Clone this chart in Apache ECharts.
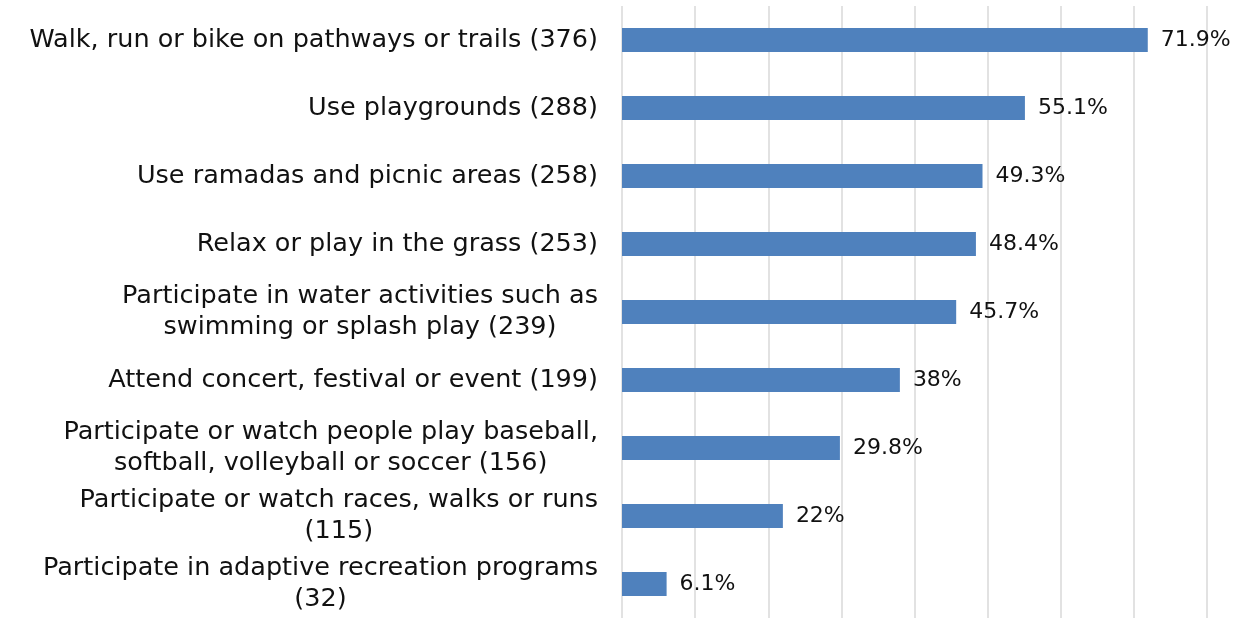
<!DOCTYPE html>
<html>
<head>
<meta charset="utf-8">
<script src="https://cdn.jsdelivr.net/npm/echarts@6/dist/echarts.min.js"></script>
<style>
  html, body { margin: 0; padding: 0; background: #fff; }
  #chart { width: 1246px; height: 618px; }
</style>
</head>
<body>
<div id="chart"></div>
<script>
// categories, top to bottom
const categories = [
  'Walk, run or bike on pathways or trails (376)',
  'Use playgrounds (288)',
  'Use ramadas and picnic areas (258)',
  'Relax or play in the grass (253)',
  'Participate in water activities such as\nswimming or splash play (239)',
  'Attend concert, festival or event (199)',
  'Participate or watch people play baseball,\nsoftball, volleyball or soccer (156)',
  'Participate or watch races, walks or runs\n(115)',
  'Participate in adaptive recreation programs\n(32)'
]
const percents = [71.9, 55.1, 49.3, 48.4, 45.7, 38, 29.8, 22, 6.1]

const FONT = 'DejaVu Sans'
const chart = echarts.init(document.getElementById('chart'))
chart.setOption({
  animation: false,
  textStyle: { fontFamily: FONT },
  grid: { left: 622, right: 39, top: 6, bottom: 0 },
  xAxis: {
    type: 'value',
    min: 0,
    max: 80,
    interval: 10,
    axisLabel: { show: false },
    axisLine: { show: false },
    axisTick: { show: false },
    splitLine: { show: true, lineStyle: { color: '#d9d9d9', width: 1.5 } }
  },
  yAxis: {
    type: 'category',
    inverse: true,
    data: categories,
    axisLine: { show: false },
    axisTick: { show: false },
    axisLabel: {
      margin: 24,
      align: 'right',
      // wrapped lines are centred on each other, block stays right aligned
      formatter: v => v.split('\n').map(s => '{c|' + s + '}').join('\n'),
      rich: {
        c: { align: 'center', fontFamily: FONT, fontSize: 25.5, lineHeight: 31, color: '#111' }
      }
    }
  },
  series: [
    {
      type: 'bar',
      data: percents,
      barWidth: 24,
      itemStyle: { color: '#4f81bd' },
      label: {
        show: true,
        position: 'right',
        distance: 13,
        color: '#111',
        fontSize: 22,
        fontFamily: FONT,
        formatter: p => p.value + '%'
      }
    }
  ]
})
</script>
</body>
</html>
